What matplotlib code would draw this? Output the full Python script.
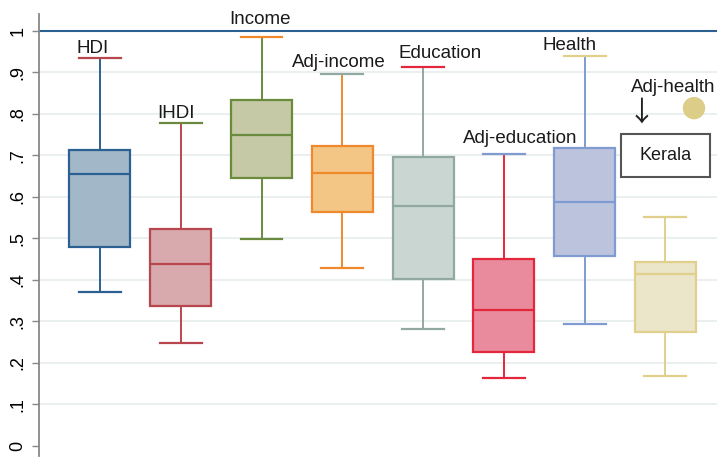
import matplotlib
matplotlib.use('Agg')
import matplotlib.pyplot as plt
from matplotlib.patches import Rectangle

plt.rcParams['font.family'] = ['Liberation Sans', 'DejaVu Sans']

# box summary values
names = ['HDI', 'IHDI', 'Income', 'Adj-income', 'Education', 'Adj-education', 'Health', 'Adj-health']
whislo = [0.370, 0.248, 0.498, 0.429, 0.281, 0.162, 0.294, 0.168]
q1 = [0.480, 0.337, 0.645, 0.563, 0.401, 0.227, 0.457, 0.275]
med = [0.654, 0.438, 0.749, 0.658, 0.577, 0.327, 0.588, 0.414]
q3 = [0.713, 0.522, 0.834, 0.723, 0.696, 0.451, 0.719, 0.443]
whishi = [0.935, 0.778, 0.986, 0.896, 0.914, 0.703, 0.940, 0.551]
outlier_value = 0.814  # Kerala, Adj-health

edge_colors = ['#2a6192', '#b8464f', '#6a8a3e', '#f0892b', '#91a9a1', '#e3283d', '#7f9bd1', '#e0d08c']
fill_colors = ['#a2b7c7', '#d9aaad', '#c5c9a6', '#f3c685', '#c9d6d2', '#e98b9c', '#bcc3dd', '#ebe5c9']

# label positions (data coords)
label_pos = [(0.91, 0.957), (1.94, 0.802), (2.98, 1.027), (3.96, 0.925),
             (5.21, 0.945), (6.20, 0.740), (6.82, 0.964), (8.10, 0.863)]

fig = plt.figure(figsize=(7.17, 4.58), dpi=100)
ax = fig.add_axes([39 / 717, 2 / 458, 1 - 39 / 717, 442 / 458])

stats = []
for i in range(len(names)):
    stats.append({'whislo': whislo[i], 'q1': q1[i], 'med': med[i],
                  'q3': q3[i], 'whishi': whishi[i], 'fliers': [], 'label': names[i]})

positions = list(range(1, len(names) + 1))
bp = ax.bxp(stats, positions=positions, widths=0.755, patch_artist=True,
            showfliers=False, manage_ticks=False, zorder=3)

for i in range(len(names)):
    c = edge_colors[i]
    bp['boxes'][i].set_facecolor(fill_colors[i])
    bp['boxes'][i].set_edgecolor(c)
    bp['boxes'][i].set_linewidth(1.6)
    bp['medians'][i].set_color(c)
    bp['medians'][i].set_linewidth(1.6)
    bp['whiskers'][2 * i].set_color(c)
    bp['whiskers'][2 * i + 1].set_color(c)
    bp['whiskers'][2 * i].set_linewidth(1.4)
    bp['whiskers'][2 * i + 1].set_linewidth(1.4)
    # lower cap uses own colour, upper cap takes the next box's colour
    bp['caps'][2 * i].set_color(c)
    nxt = edge_colors[min(i + 1, len(names) - 1)]
    bp['caps'][2 * i + 1].set_color(nxt)
    bp['caps'][2 * i].set_linewidth(1.6)
    bp['caps'][2 * i + 1].set_linewidth(1.6)
    for cap in bp['caps'][2 * i:2 * i + 2]:
        xd = cap.get_xdata()
        mid = (xd[0] + xd[1]) / 2
        cap.set_xdata([mid - 0.26, mid + 0.26])

# outlier marker for Kerala
ax.scatter([positions[-1] + 0.355], [outlier_value], s=260, color='#dccd88',
           edgecolor='none', zorder=4)

for name, (x, y) in zip(names, label_pos):
    ax.text(x, y, name, ha='center', va='center', fontsize=13.5, color='#1a1a1a', zorder=5)

ax.text(7.71, 0.802, '\u2193', ha='center', va='center', fontsize=20,
        family=['Noto Sans CJK SC', 'DejaVu Sans'], color='#222222', zorder=5)
ax.add_patch(Rectangle((7.448, 0.648), 8.55 - 7.448, 0.751 - 0.648, fc='white',
                       ec='#555555', lw=1.5, zorder=4))
ax.text(8.0, 0.699, 'Kerala', ha='center', va='center', fontsize=13, color='#1a1a1a', zorder=5)

ax.axhline(1.0, color='#2a6192', lw=1.5, zorder=2)

ax.set_xlim(0.245, 8.64)
ax.set_ylim(-0.025, 1.041)
yt = [0, 0.1, 0.2, 0.3, 0.4, 0.5, 0.6, 0.7, 0.8, 0.9, 1.0]
ylabels = ['0', '.1', '.2', '.3', '.4', '.5', '.6', '.7', '.8', '.9', '1']
ax.set_yticks(yt)
ax.set_yticklabels(ylabels, rotation=90, va='center', fontsize=13)
for y in yt[1:-1]:
    ax.axhline(y, color='#e6eded', lw=1.2, zorder=1)
ax.set_xticks([])
ax.tick_params(axis='y', length=5, color='#888888', width=1, pad=4)
for s in ['top', 'right', 'bottom']:
    ax.spines[s].set_visible(False)
ax.spines['left'].set_color('#888888')
ax.spines['left'].set_linewidth(1.3)

fig.savefig('out.png', dpi=100)
